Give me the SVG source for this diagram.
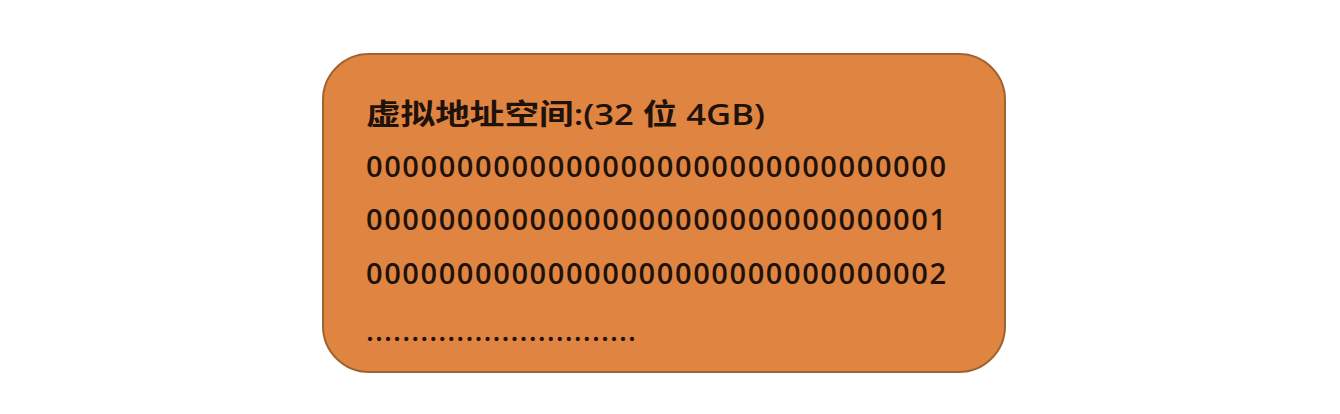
<svg xmlns="http://www.w3.org/2000/svg" width="1340" height="414" viewBox="0 0 1340 414">
<style>
.t{font-family:"Open Sans","Noto Sans CJK SC",sans-serif;font-weight:600;fill:#1e120a}
.r{font-size:29px}
</style>
<rect width="1340" height="414" fill="#ffffff"/>
<g id="box">
<rect x="323" y="54" width="682" height="318" rx="46" ry="46" fill="#E08442" stroke="#9E6430" stroke-width="2"/>
<text class="t" x="366" y="125" font-size="29" textLength="399" lengthAdjust="spacingAndGlyphs">虚拟地址空间:(32 位 4GB)</text>
<text class="t r" x="366" y="177" textLength="580" lengthAdjust="spacing">00000000000000000000000000000000</text>
<text class="t r" x="366" y="230" textLength="580" lengthAdjust="spacing">00000000000000000000000000000001</text>
<text class="t r" x="366" y="284" textLength="580" lengthAdjust="spacing">00000000000000000000000000000002</text>
<text class="t r" x="366" y="341" textLength="270" lengthAdjust="spacing" fill="#5a2a10">..............................</text>
</g>
<g id="connectors"/>
</svg>
